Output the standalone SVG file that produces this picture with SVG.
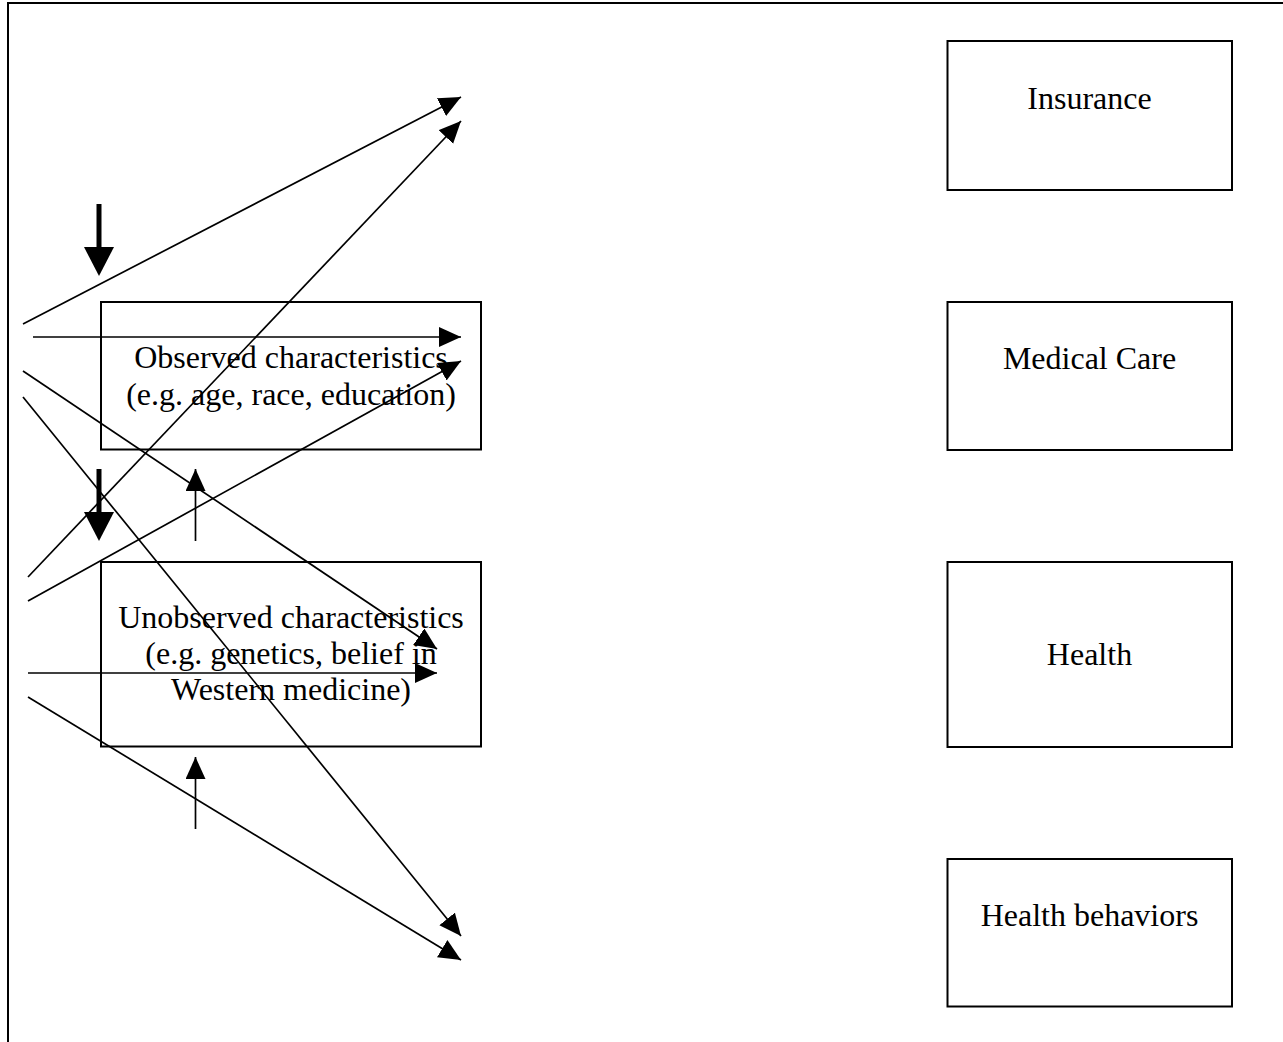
<svg xmlns="http://www.w3.org/2000/svg" width="1283" height="1042" viewBox="0 0 1283 1042">
<style>
.box{fill:none;stroke:#000;stroke-width:2}
.lbl{font-family:"Liberation Serif","Times New Roman",serif;font-size:32px;fill:#000;text-anchor:middle}
.ln{stroke:#000;stroke-width:1.7;fill:none}
.thick{stroke:#000;stroke-width:5;fill:none}
</style>
<defs>
<marker id="ah" markerUnits="userSpaceOnUse" markerWidth="24" markerHeight="22" refX="22" refY="10" orient="auto" viewBox="0 0 24 22">
<path d="M0,0 L22,10 L0,20 z" fill="#000"/>
</marker>
<marker id="ahb" markerUnits="userSpaceOnUse" markerWidth="32" markerHeight="32" refX="3" refY="15" orient="auto" viewBox="0 0 32 32">
<path d="M0,0 L29,15 L0,30 z" fill="#000"/>
</marker>
</defs>
<rect width="1283" height="1042" fill="#fff"/>
<g id="frame">
<path d="M8,1042 L8,3 L1283,3" fill="none" stroke="#000" stroke-width="2"/>
</g>
<g id="insurance">
<rect class="box" x="947.5" y="41" width="284.5" height="149"/>
<text class="lbl" x="1089.5" y="109">Insurance</text>
</g>
<g id="medical-care">
<rect class="box" x="947.5" y="302" width="284.5" height="148"/>
<text class="lbl" x="1089.5" y="369">Medical Care</text>
</g>
<g id="health">
<rect class="box" x="947.5" y="562" width="284.5" height="185"/>
<text class="lbl" x="1089.5" y="665">Health</text>
</g>
<g id="health-behaviors">
<rect class="box" x="947.5" y="859" width="284.5" height="147.5"/>
<text class="lbl" x="1089.5" y="926">Health behaviors</text>
</g>
<g id="observed">
<rect class="box" x="101" y="302" width="380" height="147.5"/>
<text class="lbl" x="291" y="368">Observed characteristics</text>
<text class="lbl" x="291" y="405">(e.g. age, race, education)</text>
</g>
<g id="unobserved">
<rect class="box" x="101" y="562" width="380" height="184.5"/>
<text class="lbl" x="291" y="628">Unobserved characteristics</text>
<text class="lbl" x="291" y="664">(e.g. genetics, belief in</text>
<text class="lbl" x="291" y="700">Western medicine)</text>
</g>
<g id="connectors">
<line class="ln" x1="23" y1="324" x2="461" y2="97" marker-end="url(#ah)"/>
<line class="ln" x1="28" y1="577" x2="461" y2="121" marker-end="url(#ah)"/>
<line class="ln" x1="33" y1="337" x2="461" y2="337" marker-end="url(#ah)"/>
<line class="ln" x1="28" y1="601" x2="461" y2="361" marker-end="url(#ah)"/>
<line class="ln" x1="23" y1="371" x2="437" y2="649" marker-end="url(#ah)"/>
<line class="ln" x1="23" y1="397" x2="461" y2="936" marker-end="url(#ah)"/>
<line class="ln" x1="28" y1="673" x2="437" y2="673" marker-end="url(#ah)"/>
<line class="ln" x1="28" y1="697" x2="461" y2="960" marker-end="url(#ah)"/>
<line class="ln" x1="195.5" y1="541" x2="195.5" y2="469" marker-end="url(#ah)"/>
<line class="ln" x1="195.5" y1="829" x2="195.5" y2="757" marker-end="url(#ah)"/>
<line class="thick" x1="99" y1="204" x2="99" y2="250" marker-end="url(#ahb)"/>
<line class="thick" x1="99" y1="469" x2="99" y2="515" marker-end="url(#ahb)"/>
</g>
</svg>
